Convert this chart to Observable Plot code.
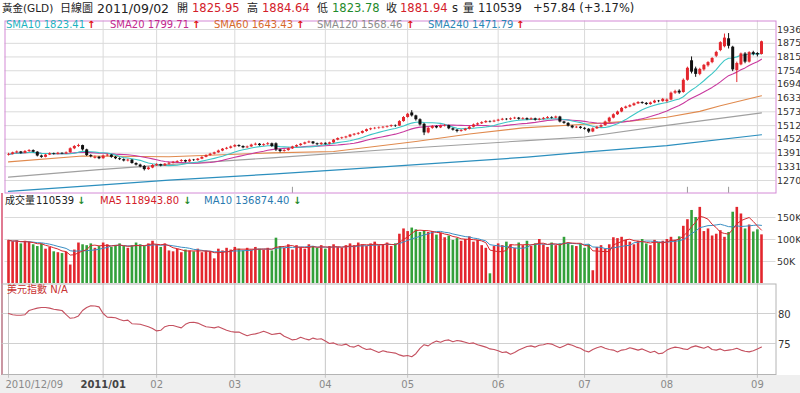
<!DOCTYPE html>
<html><head><meta charset="utf-8">
<script src="https://cdn.jsdelivr.net/npm/d3@7"></script>
<script src="https://cdn.jsdelivr.net/npm/@observablehq/plot@0.6"></script>
<style>
body{margin:0;background:#fff;}
#wrap{position:relative;width:800px;height:393px;overflow:hidden;font-family:"DejaVu Sans","Noto Sans CJK TC",Verdana,sans-serif;background:#fff;}
.abs{position:absolute;white-space:nowrap;}
.h{top:0;line-height:17px;font-size:11.5px;color:#222;}
.lg{top:18px;line-height:14px;font-size:10px;}
.vh{top:194px;line-height:14px;font-size:10px;}
.ar{font-weight:bold;}
</style></head><body><div id="wrap">
<div class="abs" style="left:0;top:375px;width:800px;height:18px;background:#efefef"></div>
<div class="abs" style="left:1px;top:193px;width:1.5px;height:182px;background:#e07a92"></div>
</div>
<script>
// ---- data ----
const opens = [1382,1385,1392,1396,1390,1398,1402,1395,1378,1372,
1382,1388,1385,1390,1387,1392,1410,1420,1424,1405,
1380,1368,1372,1366,1378,1382,1372,1366,1362,1356,
1360,1345,1338,1332,1318,1325,1336,1340,1334,1342,
1346,1350,1354,1358,1352,1360,1358,1364,1372,1380,
1386,1392,1400,1408,1412,1418,1424,1420,1414,1418,
1426,1430,1424,1428,1432,1432,1405,1398,1402,1410,
1418,1424,1430,1436,1440,1432,1428,1434,1430,1436,
1448,1455,1458,1462,1470,1474,1478,1486,1494,1498,
1500,1502,1505,1508,1512,1510,1530,1548,1568,1555,
1538,1518,1480,1500,1508,1502,1510,1512,1498,1492,
1486,1490,1496,1505,1515,1520,1525,1530,1528,1532,
1536,1540,1538,1542,1545,1540,1543,1538,1542,1536,
1540,1544,1548,1545,1550,1528,1522,1510,1502,1505,
1500,1496,1484,1498,1505,1512,1528,1545,1560,1572,
1588,1594,1600,1608,1614,1610,1605,1612,1620,1618,
1618,1625,1655,1664,1658,1712,1798,1762,1738,1758,
1776,1790,1818,1843,1860,1895,1858,1755,1780,1828,
1792,1834,1830,1825.95];
const highs = [1390,1395,1400,1398,1402,1406,1405,1397,1382,1385,
1392,1391,1394,1392,1396,1414,1424,1430,1426,1408,
1384,1378,1376,1382,1386,1384,1376,1370,1365,1364,
1362,1348,1342,1336,1330,1340,1344,1342,1345,1350,
1354,1357,1362,1360,1364,1363,1367,1375,1383,1390,
1395,1404,1411,1416,1422,1428,1427,1423,1422,1430,
1435,1433,1432,1437,1435,1436,1408,1406,1413,1421,
1427,1433,1439,1444,1442,1435,1437,1436,1439,1451,
1458,1461,1465,1473,1477,1481,1489,1497,1501,1504,
1506,1508,1511,1515,1515,1534,1552,1566,1578,1558,
1542,1522,1504,1512,1511,1514,1517,1514,1501,1495,
1494,1500,1509,1519,1524,1529,1534,1533,1536,1540,
1544,1543,1546,1549,1548,1547,1546,1546,1545,1544,
1548,1552,1551,1554,1553,1531,1525,1513,1509,1508,
1503,1499,1502,1509,1516,1532,1549,1564,1576,1592,
1598,1604,1612,1618,1617,1614,1616,1624,1623,1632,
1630,1660,1668,1670,1718,1770,1815,1770,1765,1782,
1794,1812,1840,1882,1916,1918,1862,1792,1832,1834,
1838,1840,1834,1884.64];
const lows = [1378,1383,1388,1386,1388,1394,1392,1374,1368,1370,
1380,1382,1383,1384,1385,1390,1406,1416,1400,1376,
1370,1365,1362,1364,1375,1368,1362,1358,1352,1352,
1342,1334,1326,1312,1315,1322,1332,1330,1332,1338,
1343,1347,1350,1348,1350,1354,1355,1362,1370,1377,
1383,1390,1397,1405,1409,1415,1416,1410,1411,1416,
1423,1421,1421,1425,1416,1398,1392,1395,1399,1407,
1415,1421,1427,1433,1428,1424,1425,1426,1427,1434,
1445,1451,1454,1459,1466,1470,1475,1483,1490,1494,
1496,1498,1501,1504,1504,1508,1527,1545,1550,1532,
1510,1468,1476,1496,1498,1499,1506,1494,1488,1480,
1483,1487,1493,1502,1512,1517,1522,1524,1525,1529,
1533,1534,1535,1539,1536,1537,1534,1535,1532,1533,
1537,1541,1541,1542,1524,1518,1506,1498,1499,1496,
1492,1478,1481,1495,1502,1509,1525,1542,1557,1569,
1585,1591,1597,1605,1606,1601,1602,1609,1613,1615,
1612,1622,1650,1650,1655,1708,1740,1725,1732,1752,
1770,1785,1812,1838,1855,1850,1750,1702,1776,1785,
1788,1820,1815,1823.78];
const closes = [1385,1392,1396,1390,1398,1402,1395,1378,1372,1382,
1388,1385,1390,1387,1392,1410,1420,1424,1405,1380,
1375,1372,1366,1378,1382,1372,1366,1362,1356,1360,
1345,1338,1330,1318,1325,1336,1340,1334,1342,1346,
1350,1354,1358,1352,1360,1358,1364,1372,1380,1386,
1392,1400,1408,1412,1418,1424,1420,1414,1418,1426,
1430,1424,1428,1432,1420,1405,1398,1402,1410,1418,
1424,1430,1436,1440,1432,1428,1434,1430,1436,1448,
1455,1458,1462,1470,1474,1478,1486,1494,1498,1500,
1502,1505,1508,1512,1510,1530,1548,1562,1555,1538,
1515,1480,1500,1508,1502,1510,1512,1498,1492,1486,
1490,1496,1505,1515,1520,1525,1530,1528,1532,1536,
1540,1538,1542,1545,1540,1543,1538,1542,1536,1540,
1544,1548,1545,1550,1528,1522,1510,1502,1505,1500,
1496,1484,1498,1505,1512,1528,1545,1560,1572,1588,
1594,1600,1608,1614,1610,1605,1612,1620,1618,1628,
1625,1655,1662,1656,1712,1765,1748,1738,1760,1778,
1790,1808,1835,1878,1898,1862,1758,1786,1828,1792,
1834,1826,1824,1881.94];
// volume in thousands
const volumeK = [98,95,97,90,96,94, 88,84,90,78,82, 72,70,68,71,42, 76,92,88,
86,90,80,84,92,88,82,86,90,84,80,86,92,88,84,90, 96,88,82,90,
74,72,78,70,76,74,72,78,70,74,72, 56,
78,74,80,76,82,78,74,80,76,82,78,76,80,74, 103,
84,80,88,76,86,82,78,88,84,80,86,78,84,88,82,80,86,
90,86,92,88,84,90,94,86,88,92,84,90,
112,124,118,126,122,116,120, 116,118,110,114,
104,108,98,102,96,100,106,94,98, 86,80, 22,
84,90,86,94,88,80,92,86,96,84,90,100,88,82,92,86,90, 105,
92,86,84,90,80,88, 29, 82,86,78,88, 104,102,105,98,
94,88,96,100,90,86,98,92,96,100, 105,98,106,
130,145,166,150,173, 118,124,108,112,120,105,116, 162,173,
158,124,133,117,122,110.539];
const usdIndex = [80.0,79.8,79.7,79.7,79.8,80.5,80.7,80.9,81.0,81.0,
80.9,80.7,80.6,80.5,79.8,79.2,79.3,79.6,80.5,81.0,
81.3,81.25,81.1,80.0,79.4,79.35,79.3,79.0,78.8,78.9,
78.3,78.25,78.2,78.0,77.8,77.5,77.1,77.2,77.8,78.0,
78.0,77.8,77.6,78.2,78.5,78.55,78.4,78.1,77.8,77.7,
77.6,77.8,77.5,77.2,77.0,76.9,76.9,76.6,76.3,76.5,
76.6,76.8,77.05,76.8,76.5,76.6,76.7,76.2,75.9,75.6,
75.7,76.05,75.8,75.6,75.9,75.7,75.8,75.4,75.0,75.1,
74.8,74.7,74.9,74.5,74.4,74.7,74.3,74.0,74.1,73.8,
73.5,73.8,73.6,73.5,73.4,73.1,72.9,73.0,72.8,73.3,
74.2,74.8,74.6,75.1,75.4,75.2,75.5,75.6,75.3,75.5,
75.4,75.2,75.0,75.1,74.8,74.6,74.4,74.1,74.0,73.8,
73.5,73.6,73.2,73.5,73.9,74.2,74.5,74.6,74.4,74.7,
74.8,75.0,74.9,74.6,74.3,74.6,74.9,74.7,74.4,74.2,
73.8,73.6,74.0,74.3,74.5,74.2,74.0,73.9,73.6,73.9,
74.0,74.3,74.1,73.9,74.1,73.8,73.5,73.7,73.3,73.4,
73.9,74.2,74.4,74.3,74.1,74.0,74.4,74.6,74.4,74.2,
74.5,74.0,73.9,74.1,73.8,73.9,74.0,74.2,73.9,73.7,
73.6,73.8,74.1,74.4];
// long moving averages (index, value)
const sma60Idx = [0,18,39,64,79,99,112,125,140,151,160,168,173,178,183];
const sma60Val = [1352,1378,1375,1392,1398,1442,1475,1502,1518,1532,1549,1575,1600,1622,1643.43];
const sma120Idx = [0,22,39,64,95,126,140,160,183];
const sma120Val = [1285,1318,1340,1370,1410,1446,1462,1513,1568.46];
const sma240Idx = [0,22,39,64,81,126,140,160,183];
const sma240Val = [1222,1250,1272,1298,1318,1373,1395,1424,1471.79];
const priceTicks = [1270,1331,1391,1452,1512,1573,1633,1694,1754,1815,1875,1936];
const volTicks = [50,100,150];
const volTickLabels = ["50K","100K","150K"];
const usdTicks = [75,80];
const monthIdx = [23,36,55,77,97,119,140,160,182];
const monthLabels = ["2011/01","02","03","04","05","06","07","08","09"];
const startLabel = "2010/12/09";
const eventIdx = [69,165,175];

// ---- build ----
const FONT = '"DejaVu Sans", Verdana, sans-serif';
const RED = "#e3262d", GREEN = "#33a03a";
const rows = closes.map((c,k)=>({i:k, open:opens[k], high:highs[k], low:lows[k], close:c, vol:volumeK[k], usd:usdIndex[k]}));
const up = d => d.close >= d.open;
const dn = d => d.close < d.open;
const pts = (idx, val) => idx.map((k,j)=>({i:k, v:val[j]}));
const X = {domain:[0,183], range:[8,761], axis:null};
const st = {background:"transparent", fontFamily:FONT, overflow:"visible"};
const AX = 9.5;
const wrap = document.getElementById("wrap");
function place(el, top){ const d=document.createElement("div"); d.className="abs"; d.style.left="0px"; d.style.top=top+"px"; d.appendChild(el); wrap.appendChild(d); }

const price = Plot.plot({
  width:800, height:176, marginTop:1.5, marginBottom:2.5, marginLeft:4.5, marginRight:24.5,
  style:st, x:X, y:{domain:[1270,1936], range:[161,10], axis:null},
  marks:[
    Plot.ruleY(priceTicks,{stroke:"#dadada"}),
    Plot.ruleX(monthIdx,{stroke:"#dadada"}),
    Plot.ruleX(eventIdx,{y1:1213,y2:1240,stroke:"#9a9a9a"}),
    Plot.line(pts(sma240Idx,sma240Val),{x:"i",y:"v",stroke:"#2c8fbe",strokeWidth:1.2}),
    Plot.line(pts(sma120Idx,sma120Val),{x:"i",y:"v",stroke:"#a0a0a0",strokeWidth:1.1}),
    Plot.line(pts(sma60Idx,sma60Val),{x:"i",y:"v",stroke:"#e08a4e",strokeWidth:1.1}),
    Plot.lineY(rows, Plot.windowY({k:20, anchor:"end"}, {x:"i", y:"close", stroke:"#c8389e", strokeWidth:1.1})),
    Plot.lineY(rows, Plot.windowY({k:10, anchor:"end"}, {x:"i", y:"close", stroke:"#3cc6c6", strokeWidth:1.1})),
    Plot.ruleX(rows,{x:"i", y1:"low", y2:"high", stroke:RED, filter:up}),
    Plot.ruleX(rows,{x:"i", y1:"low", y2:"high", stroke:"#111", filter:dn}),
    Plot.ruleX(rows,{x:"i", y1:"open", y2:"close", stroke:RED, strokeWidth:3, filter:up}),
    Plot.ruleX(rows,{x:"i", y1:"open", y2:"close", stroke:"#111", strokeWidth:3, filter:dn}),
    Plot.frame({stroke:"#d48ad6"}),
    Plot.text(priceTicks,{y:d=>d, text:d=>String(d), frameAnchor:"right", textAnchor:"start", dx:1, fontSize:AX, fill:"#333"})
  ]
});
place(price, 19);

const vol = Plot.plot({
  width:800, height:89, marginTop:0, marginBottom:0, marginLeft:4.5, marginRight:24.5,
  style:st, x:X, y:{domain:[0,150], range:[89,23], axis:null},
  marks:[
    Plot.ruleY(volTicks,{stroke:"#dadada"}),
    Plot.ruleX(monthIdx,{stroke:"#dadada"}),
    Plot.ruleX(rows,{x:"i", y1:0, y2:"vol", stroke:RED, strokeWidth:2.6, filter:up}),
    Plot.ruleX(rows,{x:"i", y1:0, y2:"vol", stroke:GREEN, strokeWidth:2.6, filter:dn}),
    Plot.lineY(rows, Plot.windowY({k:10, anchor:"end"}, {x:"i", y:"vol", stroke:"#3a8fc4", strokeWidth:1})),
    Plot.lineY(rows, Plot.windowY({k:5, anchor:"end"}, {x:"i", y:"vol", stroke:"#d8282e", strokeWidth:1})),
    Plot.text(volTicks,{y:d=>d, text:volTickLabels, frameAnchor:"right", textAnchor:"start", dx:1, fontSize:AX, fill:"#333"})
  ]
});
place(vol, 194);

const usd = Plot.plot({
  width:800, height:110, marginTop:0.5, marginBottom:19, marginLeft:1.5, marginRight:24.5,
  style:st, x:X, y:{domain:[70,85], range:[90,0], axis:null},
  marks:[
    Plot.ruleY(usdTicks,{stroke:"#d0d0d0"}),
    Plot.ruleX([0,...monthIdx],{y1:85, y2:69.2, stroke:"#c6c6c6"}),
    Plot.line(rows,{x:"i", y:"usd", stroke:"#c4505f", strokeWidth:1.1}),
    Plot.frame({stroke:"#b4b4b4"}),
    Plot.text(usdTicks,{y:d=>d, text:d=>String(d), frameAnchor:"right", textAnchor:"start", dx:2, dy:1, fontSize:10, fill:"#333"}),
    Plot.text([0],{x:d=>d, text:()=>startLabel, frameAnchor:"bottom", dy:13, textAnchor:"start", dx:-3, fontSize:10, fill:"#8a8a8a"}),
    Plot.text(monthIdx.slice(0,1),{x:d=>d, text:monthLabels.slice(0,1), frameAnchor:"bottom", dy:13, fontSize:10, fontWeight:"bold", fill:"#444"}),
    Plot.text(monthIdx.slice(1),{x:d=>d, text:monthLabels.slice(1), frameAnchor:"bottom", dy:13, fontSize:10, fill:"#8a8a8a"})
  ]
});
place(usd, 283);

// ---- texts ----
function span(txt, left, cls, style){ const s=document.createElement("div"); s.className="abs "+cls; s.style.left=left+"px"; if(style) s.style.cssText+=style; s.textContent=txt; wrap.appendChild(s); }
const headR = "color:#d3202a;", headG = "color:#1f8a2c;";
span("黃金(GLD)",2,"h","font-size:10.5px;");
span("日線圖",60,"h","font-size:11px;");
span("2011/09/02",97,"h","font-size:12.5px;");
span("開",177,"h","font-size:11px;"); span("1825.95",192,"h",headR);
span("高",247,"h","font-size:11px;"); span("1884.64",262,"h",headR);
span("低",317,"h","font-size:11px;"); span("1823.78",332,"h",headG);
span("收",386,"h","font-size:11px;"); span("1881.94",400,"h",headR);
span("s",452,"h");
span("量",463,"h","font-size:11px;"); span("110539",478,"h");
span("+57.84 (+3.17%)",533,"h");

span("SMA10 1823.41",6,"lg","color:#1fb3bf;"); span("↑",87,"lg ar","color:#e01010;");
span("SMA20 1799.71",110,"lg","color:#c22a8e;"); span("↑",192,"lg ar","color:#e01010;");
span("SMA60 1643.43",214,"lg","color:#d6692c;"); span("↑",296,"lg ar","color:#e01010;");
span("SMA120 1568.46",317,"lg","color:#8c8c8c;"); span("↑",406,"lg ar","color:#e01010;");
span("SMA240 1471.79",428,"lg","color:#2a87b5;"); span("↑",516,"lg ar","color:#e01010;");

span("成交量",5,"vh","color:#222;"); span("110539",36,"vh","color:#222;"); span("↓",77,"vh ar","color:#1f8a2c;");
span("MA5 118943.80",100,"vh","color:#d3202a;"); span("↓",183,"vh ar","color:#1f8a2c;");
span("MA10 136874.40",204,"vh","color:#2a7ab0;"); span("↓",293,"vh ar","color:#1f8a2c;");

span("美元指數 N/A",7,"vh","top:283px;color:#c83232;");
</script>
</body></html>
